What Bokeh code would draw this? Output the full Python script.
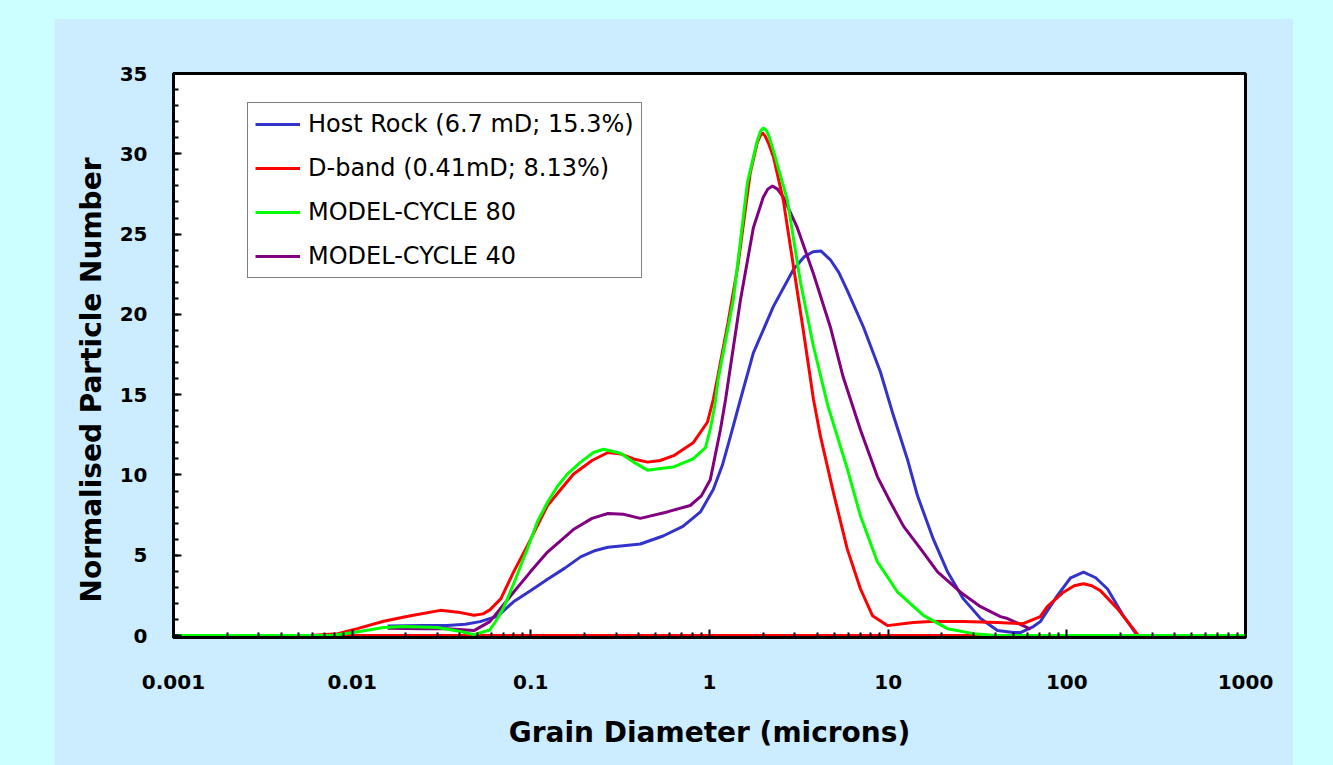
from bokeh.plotting import figure
from bokeh.layouts import column
from bokeh.models import FixedTicker, SingleIntervalTicker, Legend, LegendItem, Title
from bokeh.embed import file_html
from bokeh.resources import INLINE

# ---- grain-size distributions (diameter in microns, normalised particle number) ----
host_x = [0.0158, 0.025, 0.034, 0.043, 0.052, 0.065, 0.080, 0.10, 0.124, 0.155, 0.19, 0.23,
          0.27, 0.33, 0.41, 0.55, 0.71, 0.89, 1.05, 1.18, 1.31, 1.49, 1.76, 2.28, 2.95, 3.4,
          3.8, 4.2, 4.75, 5.3, 5.9, 7.28, 9.06, 10.7, 12.8, 14.6, 17.9, 21.5, 26.3, 32.9,
          40.9, 50.3, 55, 65, 71, 88.7, 105, 124, 145, 169, 207, 248]
host_y = [0.6, 0.62, 0.62, 0.7, 0.87, 1.2, 2.1, 2.8, 3.5, 4.2, 4.9, 5.3,
          5.5, 5.6, 5.7, 6.2, 6.8, 7.7, 9.1, 10.6, 12.4, 14.7, 17.6, 20.5, 22.8, 23.6,
          23.9, 23.95, 23.4, 22.6, 21.5, 19.2, 16.4, 13.7, 11.0, 8.7, 6.0, 3.97, 2.3, 1.06,
          0.31, 0.19, 0.19, 0.56, 0.87, 2.5, 3.6, 3.95, 3.6, 2.9, 1.24, 0.0]

dband_x = [0.0058, 0.0083, 0.0107, 0.015, 0.0212, 0.0312, 0.0404, 0.048, 0.054, 0.059, 0.068,
           0.080, 0.0957, 0.124, 0.173, 0.22, 0.27, 0.32, 0.376, 0.45, 0.53, 0.63, 0.81, 0.975,
           1.05, 1.12, 1.27, 1.44, 1.69, 1.85, 1.92, 1.98, 2.05, 2.15, 2.28, 2.59, 2.95, 3.36,
           3.82, 4.18, 4.94, 5.9, 7.0, 8.17, 9.9, 13.8, 17.3, 26.3, 40.9, 57, 71, 77.7, 95.7,
           110, 124, 138, 154, 192, 252]
dband_y = [0.0, 0.12, 0.43, 0.89, 1.24, 1.57, 1.43, 1.26, 1.35, 1.6, 2.3,
           3.95, 5.6, 8.1, 10.05, 10.9, 11.4, 11.3, 11.0, 10.8, 10.9, 11.2, 12.0, 13.3,
           14.7, 16.3, 19.5, 23.0, 28.8, 30.7, 31.1, 31.3, 31.1, 30.6, 29.8, 27.1, 23.0, 18.9,
           14.7, 12.4, 8.9, 5.4, 2.9, 1.24, 0.62, 0.81, 0.87, 0.87, 0.81, 0.74, 1.18, 1.8, 2.7,
           3.1, 3.23, 3.1, 2.8, 1.68, 0.0]

# zero baseline carried by the D-band series across the diameter axis
dband_base_x = [0.0058, 1000]
dband_base_y = [0.0, 0.0]

cycle80_x = [0.001, 0.003, 0.0076, 0.0102, 0.015, 0.0194, 0.030, 0.0404, 0.048, 0.059, 0.065,
             0.070, 0.080, 0.091, 0.0957, 0.109, 0.124, 0.141, 0.160, 0.19, 0.224, 0.255, 0.318,
             0.376, 0.45, 0.532, 0.63, 0.81, 0.95, 1.01, 1.07, 1.12, 1.36, 1.63, 1.85, 1.93,
             2.0, 2.07, 2.15, 2.28, 2.73, 3.23, 3.82, 4.6, 5.9, 7.0, 8.7, 11.3, 15.8, 21.5, 30,
             40, 1000]
cycle80_y = [0.0, 0.0, 0.0, 0.19, 0.5, 0.56, 0.5, 0.25, 0.06, 0.35, 1.05,
             1.68, 3.2, 4.8, 5.4, 7.1, 8.3, 9.3, 10.05, 10.8, 11.4, 11.6, 11.35,
             10.8, 10.3, 10.4, 10.5, 11.0, 11.7, 12.85, 14.3, 16.0, 20.9, 28.2, 30.8, 31.4,
             31.6, 31.5, 31.1, 30.2, 27.1, 22.0, 18.0, 14.3, 10.4, 7.45, 4.6, 2.7, 1.24, 0.43,
             0.12, 0.0, 0.0]

cycle40_x = [0.0158, 0.025, 0.034, 0.048, 0.059, 0.080, 0.10, 0.124, 0.173, 0.22, 0.27, 0.33,
             0.41, 0.58, 0.78, 0.9, 1.01, 1.15, 1.23, 1.49, 1.76, 2.0, 2.12, 2.25, 2.4, 2.59,
             3.1, 3.8, 4.75, 5.6, 7.0, 8.7, 10.3, 12.2, 15.2, 18.9, 25.4, 32.9, 42.5, 46.6, 62.6]
cycle40_y = [0.45, 0.43, 0.43, 0.31, 0.87, 2.7, 4.0, 5.2, 6.6, 7.3, 7.6, 7.55,
             7.3, 7.7, 8.1, 8.7, 9.7, 12.8, 14.7, 20.9, 25.4, 27.3, 27.8, 28.0, 27.8, 27.3,
             25.4, 22.6, 19.2, 16.1, 12.8, 9.9, 8.3, 6.8, 5.4, 3.97, 2.7, 1.8, 1.18, 1.06, 0.4]

series_names = ["Host Rock (6.7 mD; 15.3%)", "D-band (0.41mD; 8.13%)",
                "MODEL-CYCLE 80", "MODEL-CYCLE 40"]
series_colors = ["#3333CC", "#FF0000", "#00FF00", "#800080"]

x_ticks = [0.001, 0.01, 0.1, 1, 10, 100, 1000]
x_tick_labels = ["0.001", "0.01", "0.1", "1", "10", "100", "1000"]
x_minor_ticks = [m * 10.0 ** k for k in range(-3, 3) for m in range(2, 10)]

x_title = "Grain Diameter (microns)"
y_title = "Normalised Particle Number"

# ---- figure ----
p = figure(frame_width=1072, frame_height=564,
           x_axis_type="log", x_range=(0.001, 1000), y_range=(-0.12, 35),
           output_backend="svg", toolbar_location=None,
           min_border_left=119, min_border_right=48, min_border_top=55, min_border_bottom=128,
           background_fill_color="white", border_fill_color="#CCECFF",
           x_axis_label=x_title)
p.margin = (18, 40, 0, 54)
p.grid.visible = False
p.outline_line_color = "black"
p.outline_line_width = 3

p.xaxis.ticker = FixedTicker(ticks=x_ticks, minor_ticks=x_minor_ticks)
p.xaxis.major_label_overrides = {float(t): lab for t, lab in zip(x_ticks, x_tick_labels)}
p.yaxis.ticker = SingleIntervalTicker(interval=5, num_minor_ticks=5)

for ax in (p.xaxis[0], p.yaxis[0]):
    ax.axis_line_color = "black"
    ax.axis_line_width = 3
    ax.major_tick_in = 8
    ax.major_tick_out = 0
    ax.minor_tick_in = 5
    ax.minor_tick_out = 0
    ax.major_tick_line_width = 2
    ax.minor_tick_line_width = 2
    ax.major_tick_line_color = "black"
    ax.minor_tick_line_color = "black"
    ax.major_label_text_font = "DejaVu Sans"
    ax.major_label_text_font_style = "bold"
    ax.major_label_text_font_size = "20px"
    ax.major_label_text_color = "black"
    ax.axis_label_text_font = "DejaVu Sans"
    ax.axis_label_text_font_style = "bold"
    ax.axis_label_text_font_size = "28px"
    ax.axis_label_text_color = "black"

p.xaxis.major_label_standoff = 37
p.xaxis.axis_label_standoff = 24
p.yaxis.major_label_standoff = 26

# vertical axis title, starting a little above the bottom of the frame
p.add_layout(Title(text=y_title, align="left", offset=35, standoff=17,
                   text_font="DejaVu Sans", text_font_style="bold",
                   text_font_size="28px", text_color="black"), "left")

r_host = p.line(host_x, host_y, line_color=series_colors[0], line_width=3)
r_c40 = p.line(cycle40_x, cycle40_y, line_color=series_colors[3], line_width=3)
p.line(dband_base_x, dband_base_y, line_color=series_colors[1], line_width=3)
r_dband = p.line(dband_x, dband_y, line_color=series_colors[1], line_width=3)
r_c80 = p.line(cycle80_x, cycle80_y, line_color=series_colors[2], line_width=3)

legend = Legend(
    items=[LegendItem(label=series_names[0], renderers=[r_host]),
           LegendItem(label=series_names[1], renderers=[r_dband]),
           LegendItem(label=series_names[2], renderers=[r_c80]),
           LegendItem(label=series_names[3], renderers=[r_c40])],
    location=(74, 359), margin=0, padding=7, spacing=16,
    glyph_width=45, glyph_height=24, label_height=24, label_standoff=8,
    label_text_font="DejaVu Sans", label_text_font_size="24px", label_text_color="black",
    border_line_color="black", border_line_width=1, background_fill_color="white",
    background_fill_alpha=1.0)
p.add_layout(legend, "center")

root = column(p, width=1333, height=765, styles={"background-color": "#CCFFFF"})

open("out.html", "w").write(file_html(root, INLINE))
